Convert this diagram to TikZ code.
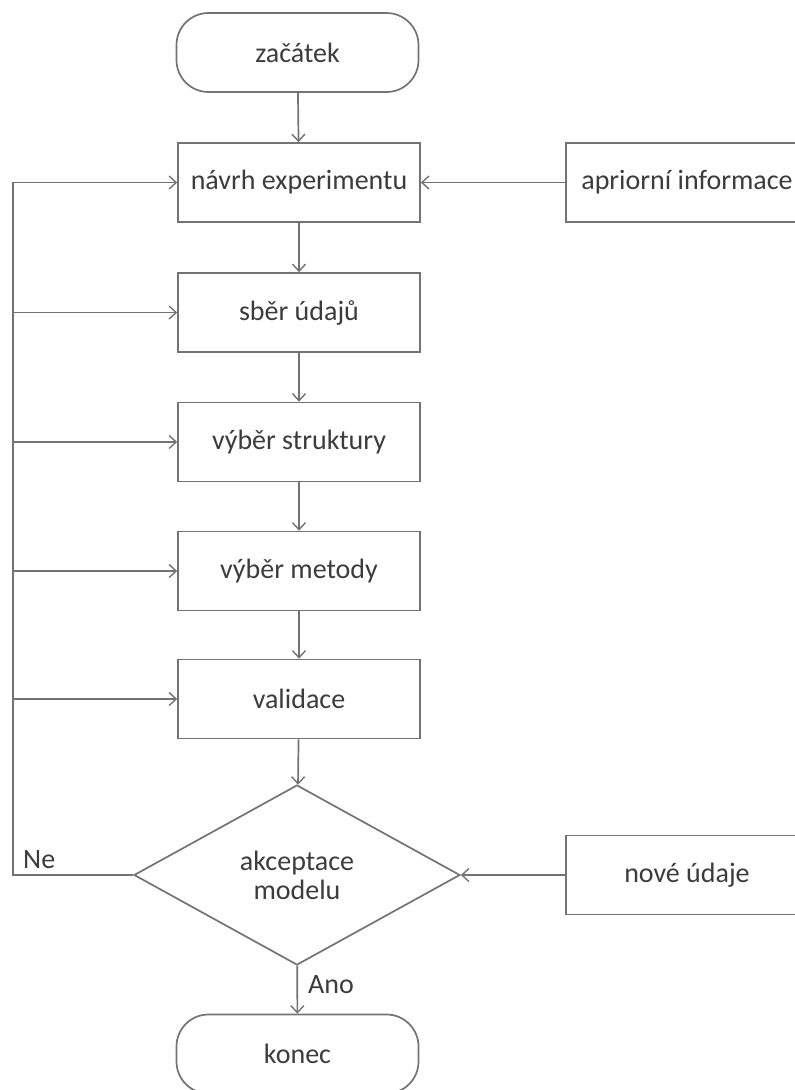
\documentclass[tikz,border=0pt]{standalone}
\usepackage{fontspec}
\setmainfont{Carlito}
\usetikzlibrary{arrows.meta,shapes.geometric}
\definecolor{linec}{RGB}{115,115,115}
\definecolor{textc}{RGB}{60,60,60}
\begin{document}
\begin{tikzpicture}[x=1pt,y=-1pt,
  every node/.style={text=textc,font=\fontsize{28}{30}\selectfont},
  base/.style={draw=linec,line width=1.7pt,minimum width=242pt,minimum height=79pt,inner sep=0pt,align=center},
  procbox/.style={base,rectangle},
  termbox/.style={base,rectangle,rounded corners=32pt},
  decbox/.style={draw=linec,line width=1.7pt,diamond,minimum width=326pt,minimum height=180pt,inner sep=0pt,align=center},
  conn/.style={draw=linec,line width=1.7pt,-{Straight Barb[length=7pt,width=13pt,line width=1.4pt]}},
  lbl/.style={inner sep=0pt}]
\clip (0,0) rectangle (795,1090);
\fill[white] (0,0) rectangle (795,1090);
\node[termbox] (start) at (297.5,52.5) {začátek};
\node[procbox] (design) at (299,182.5) {návrh experimentu};
\node[procbox] (apriori) at (687,182.5) {apriorní informace};
\node[procbox] (collect) at (299,312.5) {sběr údajů};
\node[procbox] (struct) at (299,442) {výběr struktury};
\node[procbox] (method) at (299,571) {výběr metody};
\node[procbox] (valid) at (299,699) {validace};
\node[decbox] (accept) at (297,875) {akceptace\\[-1pt]modelu};
\node[procbox] (newdata) at (687,875) {nové údaje};
\node[termbox] (stop) at (297.5,1054) {konec};
\coordinate (cl) at (13,875);
\coordinate (cd) at (13,182.5);
\draw[conn] (start) -- (design);
\draw[conn] (design) -- (collect);
\draw[conn] (collect) -- (struct);
\draw[conn] (struct) -- (method);
\draw[conn] (method) -- (valid);
\draw[conn] (valid) -- (accept);
\draw[conn] (accept) -- node[lbl,right=10pt,pos=0.4] (ano) {Ano} (stop);
\draw[conn] (apriori) -- (design);
\draw[conn] (newdata.west) -- (accept.east);
\draw[conn] (accept.west) -- (cl) -- (cd) -- (design.west);
\draw[conn] (13,0 |- collect.west) -- (collect.west);
\draw[conn] (13,0 |- struct.west) -- (struct.west);
\draw[conn] (13,0 |- method.west) -- (method.west);
\draw[conn] (13,0 |- valid.west) -- (valid.west);
\node[lbl,anchor=south west] (ne) at (23,869) {Ne};
\end{tikzpicture}
\end{document}
